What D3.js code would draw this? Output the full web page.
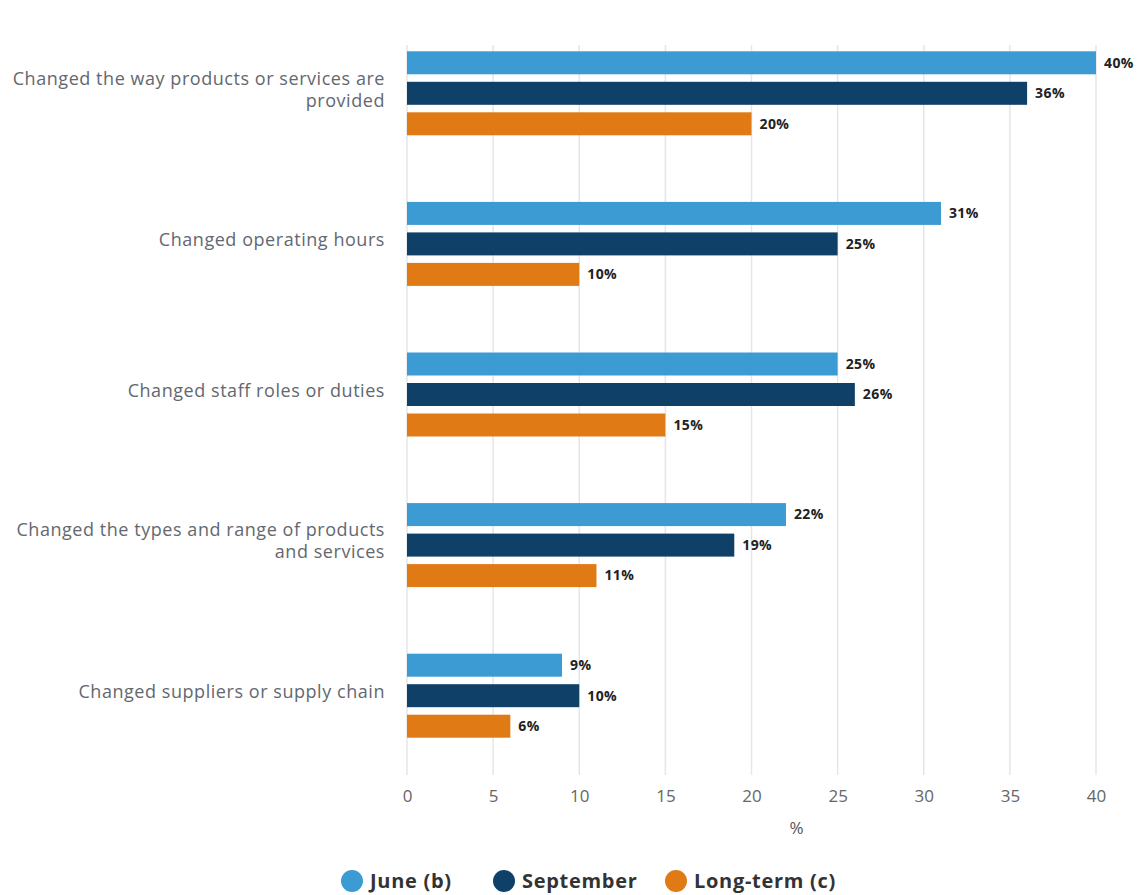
<!DOCTYPE html>
<html><head><meta charset="utf-8">
<script src="https://cdn.jsdelivr.net/npm/d3@7"></script>
<style>body{margin:0;background:#fff;font-family:"Open Sans","Noto Sans",sans-serif;}</style>
</head><body><svg id="c" width="1140" height="895"></svg>
<script>
const categories = [
  ["Changed the way products or services are", "provided"],
  ["Changed operating hours"],
  ["Changed staff roles or duties"],
  ["Changed the types and range of products", "and services"],
  ["Changed suppliers or supply chain"]
];
const seriesNames = ["June (b)", "September", "Long-term (c)"];
const seriesColors = ["#3c9bd3", "#0f4068", "#e07a14"];
const june = [40, 31, 25, 22, 9];
const september = [36, 25, 26, 19, 10];
const longTerm = [20, 10, 15, 11, 6];
const xTicks = [0, 5, 10, 15, 20, 25, 30, 35, 40];
const values = [june, september, longTerm];

const svg = d3.select("#c");
const x = d3.scaleLinear().domain([0, 40]).range([407, 1096]);
const y = d3.scaleBand().domain(d3.range(categories.length)).range([18, 771]);
const groupH = 84;
const ySub = d3.scaleBand().domain(d3.range(3)).range([0, groupH]).paddingInner(0.246);

// gridlines
svg.append("g").selectAll("line").data(xTicks).join("line")
  .attr("x1", d => x(d)).attr("x2", d => x(d))
  .attr("y1", 45).attr("y2", 775)
  .attr("stroke", "#e6e6e6").attr("stroke-width", 1.5);

// axis labels
const xAxis = d3.axisBottom(x).tickValues(xTicks).tickSize(0).tickPadding(0);
const ax = svg.append("g").attr("transform", "translate(0,797)").call(xAxis);
ax.select(".domain").remove();
ax.selectAll("text").attr("font-size", 17).attr("fill", "#666").attr("font-family", "Open Sans, sans-serif").attr("dy", "0.32em");
svg.append("text").attr("x", x(20) + 45).attr("y", 834).attr("text-anchor", "middle")
  .attr("font-size", 17).attr("fill", "#555").text("%");

// bars
const groups = svg.append("g").selectAll("g").data(categories).join("g")
  .attr("transform", (d, i) => `translate(0,${y(i) + (y.bandwidth() - groupH) / 2})`);

groups.each(function(cat, i) {
  const g = d3.select(this);
  values.forEach((vals, s) => {
    g.append("rect")
      .attr("x", x(0)).attr("y", ySub(s))
      .attr("width", x(vals[i]) - x(0)).attr("height", ySub.bandwidth())
      .attr("fill", seriesColors[s]);
    g.append("text")
      .attr("x", x(vals[i]) + 8).attr("y", ySub(s) + ySub.bandwidth() / 2)
      .attr("dy", "0.35em").attr("font-size", 14).attr("font-weight", "bold")
      .attr("letter-spacing", 0.4)
      .attr("fill", "#222").text(vals[i] + "%");
  });
  const t = g.append("text").attr("text-anchor", "end").attr("font-size", 18)
    .attr("letter-spacing", 0.55).attr("fill", "#636870");
  const mid = ySub(1) + ySub.bandwidth() / 2 - 4;
  const n = cat.length;
  cat.forEach((line, k) => {
    t.append("tspan").attr("x", 385)
      .attr("y", mid + (k - (n - 1) / 2) * 22).attr("dy", "0.35em").text(line);
  });
});

// legend
const legendX = [352, 504, 676];
const lg = svg.append("g").selectAll("g").data(seriesNames).join("g")
  .attr("transform", (d, i) => `translate(${legendX[i]},881)`);
lg.append("circle").attr("r", 11).attr("fill", (d, i) => seriesColors[i]);
lg.append("text").attr("x", 18).attr("dy", "0.35em").attr("font-size", 20)
  .attr("letter-spacing", 0.7)
  .attr("font-weight", "bold").attr("fill", "#333").text(d => d);
</script></body></html>
